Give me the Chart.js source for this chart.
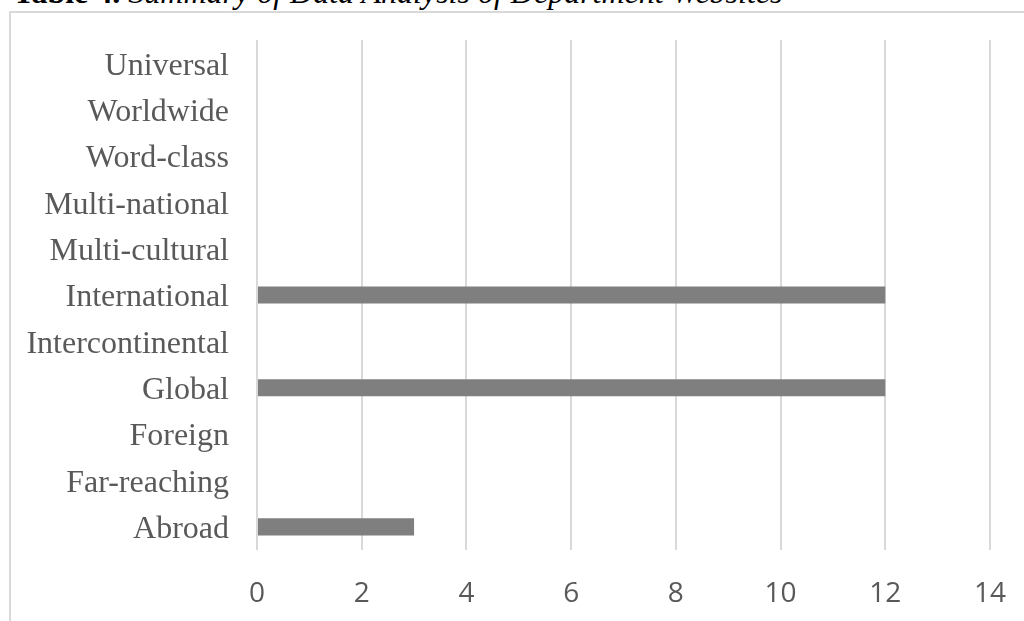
<!DOCTYPE html>
<html>
<head>
<meta charset="utf-8">
<script src="https://cdn.jsdelivr.net/npm/chart.js@4/dist/chart.umd.min.js"></script>
<style>
  html, body { margin: 0; padding: 0; background: #fff; overflow: hidden; }
  body { width: 1024px; height: 621px; position: relative; }
  #caption {
    position: absolute; left: 13px; top: -24px;
    font-family: "Liberation Serif", "Times New Roman", serif;
    font-size: 32px; line-height: 32px; color: #000; white-space: nowrap;
  }
  #caption b { font-weight: bold; }
  #caption i { font-style: italic; }
  #frame {
    position: absolute; left: 9px; top: 11px; width: 1100px; height: 700px;
    border: 2px solid #d9d9d9; box-sizing: border-box;
  }
  #wrap { position: absolute; left: 0; top: 0; width: 1024px; height: 621px; }
</style>
</head>
<body>
<div id="caption"><b>Table 4.</b> <i>Summary of Data Analysis of Department Websites</i></div>
<div id="frame"></div>
<div id="wrap"><canvas id="chart" width="1024" height="621"></canvas></div>
<script>
// Terms counted across department websites
const categories = [
  "Universal", "Worldwide", "Word-class", "Multi-national", "Multi-cultural",
  "International", "Intercontinental", "Global", "Foreign", "Far-reaching", "Abroad"
];
const counts = [0, 0, 0, 0, 0, 12, 0, 12, 0, 0, 3];
const xTicks = [0, 2, 4, 6, 8, 10, 12, 14];

new Chart(document.getElementById("chart"), {
  type: "bar",
  data: {
    labels: categories,
    datasets: [{
      data: counts,
      backgroundColor: "#7f7f7f",
      borderWidth: 0,
      categoryPercentage: 1,
      barPercentage: 0.37
    }]
  },
  options: {
    indexAxis: "y",
    responsive: false,
    animation: false,
    layout: { padding: { top: 40, right: 34, left: 0, bottom: 0 } },
    plugins: { legend: { display: false }, tooltip: { enabled: false } },
    scales: {
      x: {
        min: xTicks[0],
        max: xTicks[xTicks.length - 1],
        afterBuildTicks: (scale) => { scale.ticks = xTicks.map(v => ({ value: v })); },
        afterFit: (scale) => {
          scale.height = 71;
          scale.paddingLeft = 0;
          scale.paddingRight = 0;
        },
        grid: { color: "#d9d9d9", lineWidth: 2, drawTicks: false },
        border: { display: false },
        ticks: {
          padding: 27,
          color: "#595959",
          font: { family: "'Open Sans', sans-serif", size: 28 }
        }
      },
      y: {
        afterFit: (scale) => {
          scale.width = 257;
          scale.paddingTop = 0;
          scale.paddingBottom = 0;
        },
        grid: { display: false, drawTicks: false },
        border: { display: false },
        ticks: {
          padding: 28,
          labelOffset: 3,
          color: "#595959",
          font: { family: "'Liberation Serif', 'Times New Roman', serif", size: 32 }
        }
      }
    }
  }
});
</script>
</body>
</html>
